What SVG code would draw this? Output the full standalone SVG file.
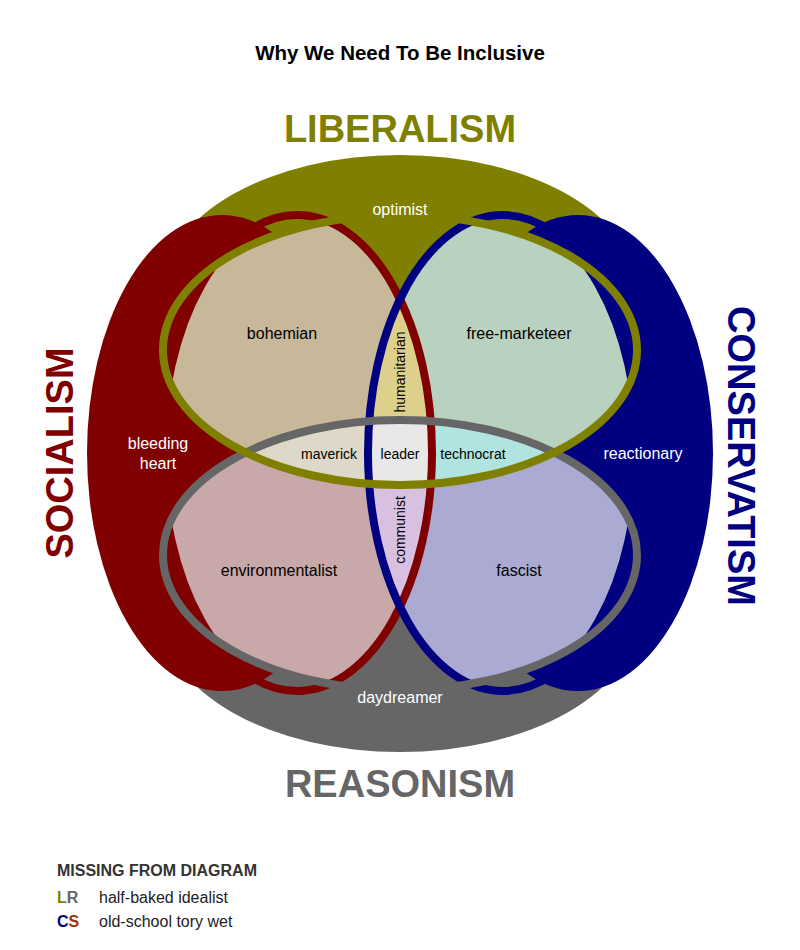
<svg xmlns="http://www.w3.org/2000/svg" width="800" height="950" viewBox="0 0 800 950">
<style>
text{font-family:"Liberation Sans",Arial,sans-serif;text-anchor:middle}
.lbl{font-size:16px;fill:#000}
.w{fill:#fff}
.big{font-size:38px;font-weight:bold}
.st{fill:none;stroke-width:8}
</style>
<defs>
<clipPath id="cL"><ellipse cx="400" cy="350" rx="237" ry="135"/></clipPath>
<clipPath id="cG"><ellipse cx="400" cy="555" rx="237" ry="135"/></clipPath>
<clipPath id="cR"><ellipse cx="297" cy="453" rx="135" ry="238"/></clipPath>
<clipPath id="cN"><ellipse cx="503" cy="453" rx="135" ry="238"/></clipPath>
</defs>
<rect width="800" height="950" fill="#fff"/>
<text x="400" y="60" style="font-size:20.5px;font-weight:bold">Why We Need To Be Inclusive</text>
<g id="outer">
<ellipse cx="400" cy="290" rx="237" ry="135" fill="#808000"/>
<ellipse cx="400" cy="617" rx="237" ry="135" fill="#666666"/>
<ellipse cx="400" cy="350" rx="237" ry="135" fill="#808000"/>
<ellipse cx="400" cy="555" rx="237" ry="135" fill="#666666"/>
<ellipse cx="222" cy="453" rx="135" ry="238" fill="#800000"/>
<ellipse cx="578" cy="453" rx="135" ry="238" fill="#000080"/>
</g>
<g id="regions">
<g clip-path="url(#cL)"><ellipse cx="297" cy="453" rx="135" ry="238" fill="#c8b89a"/></g>
<g clip-path="url(#cL)"><ellipse cx="503" cy="453" rx="135" ry="238" fill="#b9d2bf"/></g>
<g clip-path="url(#cG)"><ellipse cx="297" cy="453" rx="135" ry="238" fill="#c8a8a8"/></g>
<g clip-path="url(#cG)"><ellipse cx="503" cy="453" rx="135" ry="238" fill="#aaaad2"/></g>
<g clip-path="url(#cR)"><ellipse cx="503" cy="453" rx="135" ry="238" fill="#dcd08a"/></g>
<g clip-path="url(#cR)"><g clip-path="url(#cN)"><ellipse cx="400" cy="555" rx="237" ry="135" fill="#d8c0e0"/></g></g>
<g clip-path="url(#cL)"><g clip-path="url(#cG)"><ellipse cx="297" cy="453" rx="135" ry="238" fill="#ddd8c8"/></g></g>
<g clip-path="url(#cL)"><g clip-path="url(#cG)"><ellipse cx="503" cy="453" rx="135" ry="238" fill="#b0e4e0"/></g></g>
<g clip-path="url(#cL)"><g clip-path="url(#cG)"><g clip-path="url(#cR)"><ellipse cx="503" cy="453" rx="135" ry="238" fill="#e8e8e8"/></g></g></g>
</g>
<g id="outlines">
<ellipse class="st" cx="297" cy="453" rx="135" ry="238" stroke="#800000"/>
<ellipse class="st" cx="503" cy="453" rx="135" ry="238" stroke="#000080"/>
<ellipse class="st" cx="400" cy="555" rx="237" ry="135" stroke="#666666"/>
<ellipse class="st" cx="400" cy="350" rx="237" ry="135" stroke="#808000"/>
</g>
<text class="big" x="400" y="142" fill="#808000">LIBERALISM</text>
<text class="big" x="400" y="797" fill="#666666">REASONISM</text>
<text class="big" transform="translate(73,453) rotate(-90)" fill="#800000">SOCIALISM</text>
<text class="big" transform="translate(728,456) rotate(90)" fill="#000080">CONSERVATISM</text>
<g id="labels">
<text class="lbl w" x="400" y="215">optimist</text>
<text class="lbl" x="282" y="339">bohemian</text>
<text class="lbl" x="519" y="339">free-marketeer</text>
<text class="lbl w" x="158" y="449">bleeding</text>
<text class="lbl w" x="158" y="469">heart</text>
<text class="lbl w" x="643" y="459">reactionary</text>
<text class="lbl" x="329" y="459" style="font-size:14px">maverick</text>
<text class="lbl" x="400" y="459" style="font-size:14px">leader</text>
<text class="lbl" x="473" y="459" style="font-size:14px">technocrat</text>
<text class="lbl" transform="translate(405,372) rotate(-90)" style="font-size:14px">humanitarian</text>
<text class="lbl" transform="translate(405,530) rotate(-90)" style="font-size:14px">communist</text>
<text class="lbl" x="279" y="576">environmentalist</text>
<text class="lbl" x="519" y="576">fascist</text>
<text class="lbl w" x="400" y="703">daydreamer</text>
</g>
<g id="legend" style="font-size:16px">
<text x="57" y="876" style="text-anchor:start;font-weight:bold;fill:#333">MISSING FROM DIAGRAM</text>
<text x="57" y="903" style="text-anchor:start;font-weight:bold"><tspan fill="#808000">L</tspan><tspan fill="#666666">R</tspan></text>
<text x="99" y="903" style="text-anchor:start;fill:#222">half-baked idealist</text>
<text x="57" y="927" style="text-anchor:start;font-weight:bold"><tspan fill="#000080">C</tspan><tspan fill="#a03010">S</tspan></text>
<text x="99" y="927" style="text-anchor:start;fill:#222">old-school tory wet</text>
</g>
</svg>
